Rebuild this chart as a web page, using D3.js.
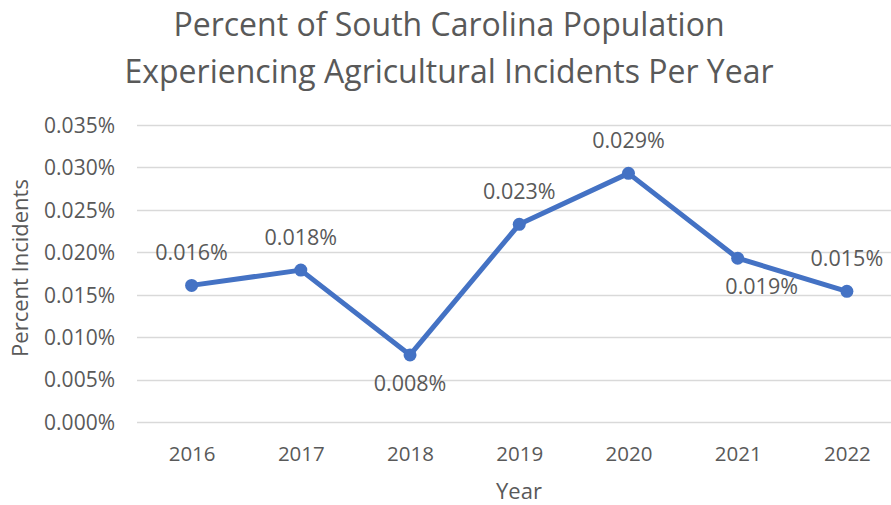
<!DOCTYPE html>
<html>
<head>
<meta charset="utf-8">
<script src="https://cdn.jsdelivr.net/npm/d3@7"></script>
<style>
  html, body { margin: 0; padding: 0; background: #ffffff; }
  svg { display: block; }
  text { font-family: "Open Sans", sans-serif; fill: #595959; }
</style>
</head>
<body>
<svg id="chart" width="891" height="505"></svg>
<script>
// ---- data ----
const years = ["2016", "2017", "2018", "2019", "2020", "2021", "2022"];
const percentIncidents = [0.0161, 0.0179, 0.0079, 0.0233, 0.0293, 0.0193, 0.0154];
const dataLabels = ["0.016%", "0.018%", "0.008%", "0.023%", "0.029%", "0.019%", "0.015%"];
const labelPlacement = ["above", "above", "below", "above", "above", "belowRight", "above"];
const yTicks = [0, 0.005, 0.010, 0.015, 0.020, 0.025, 0.030, 0.035];
const titleLines = ["Percent of South Carolina Population", "Experiencing Agricultural Incidents Per Year"];
const xTitle = "Year";
const yTitle = "Percent Incidents";

// ---- layout ----
const svg = d3.select("#chart");
const plotLeft = 137, plotRight = 901.5, plotTop = 125, plotBottom = 422;

const x = d3.scalePoint().domain(years).range([plotLeft, plotRight]).padding(0.5);
const y = d3.scaleLinear().domain([0, 0.035]).range([plotBottom, plotTop]);

// gridlines
svg.append("g")
  .selectAll("line")
  .data(yTicks)
  .join("line")
  .attr("x1", plotLeft).attr("x2", plotRight)
  .attr("y1", d => Math.round(y(d)) + 0.5).attr("y2", d => Math.round(y(d)) + 0.5)
  .attr("stroke", "#d9d9d9").attr("stroke-width", 1.3);

// y axis labels
const yAxis = d3.axisLeft(y).tickValues(yTicks).tickSize(0).tickPadding(0)
  .tickFormat(d => d3.format(".3f")(d) + "%");
const yg = svg.append("g").attr("transform", "translate(115,0)").call(yAxis);
yg.select(".domain").remove();
yg.selectAll("text").attr("font-size", 21).attr("fill", "#595959")
  .style("font-family", "'Open Sans', sans-serif").attr("dy", "0.35em");

// x axis labels
const xAxis = d3.axisBottom(x).tickSize(0).tickPadding(0);
const xg = svg.append("g").attr("transform", "translate(0,461)").call(xAxis);
xg.select(".domain").remove();
xg.selectAll("text").attr("font-size", 20.5).attr("fill", "#595959")
  .style("font-family", "'Open Sans', sans-serif").attr("dy", 0);

// line
const pts = years.map((yr, i) => ({ yr, v: percentIncidents[i], label: dataLabels[i], place: labelPlacement[i] }));
svg.append("path")
  .datum(pts)
  .attr("fill", "none")
  .attr("stroke", "#4472c4")
  .attr("stroke-width", 5)
  .attr("stroke-linejoin", "round")
  .attr("d", d3.line().x(d => x(d.yr)).y(d => y(d.v)));

svg.append("g").selectAll("circle")
  .data(pts).join("circle")
  .attr("cx", d => x(d.yr)).attr("cy", d => y(d.v))
  .attr("r", 6.5).attr("fill", "#4472c4");

// data labels
svg.append("g").selectAll("text")
  .data(pts).join("text")
  .attr("x", d => x(d.yr) + (d.place === "belowRight" ? 24 : 0))
  .attr("y", d => y(d.v) + (d.place === "above" ? -25 : 36))
  .attr("text-anchor", "middle")
  .attr("font-size", 21.5)
  .text(d => d.label);

// title
svg.append("g").selectAll("text")
  .data(titleLines).join("text")
  .attr("x", 449).attr("y", (d, i) => 35.5 + i * 47.5)
  .attr("text-anchor", "middle")
  .attr("font-size", 32)
  .text(d => d);

// axis titles
svg.append("text")
  .attr("x", 519).attr("y", 499)
  .attr("text-anchor", "middle").attr("font-size", 22)
  .text(xTitle);

svg.append("text")
  .attr("transform", "translate(28,268) rotate(-90)")
  .attr("text-anchor", "middle").attr("font-size", 22)
  .text(yTitle);
</script>
</body>
</html>
